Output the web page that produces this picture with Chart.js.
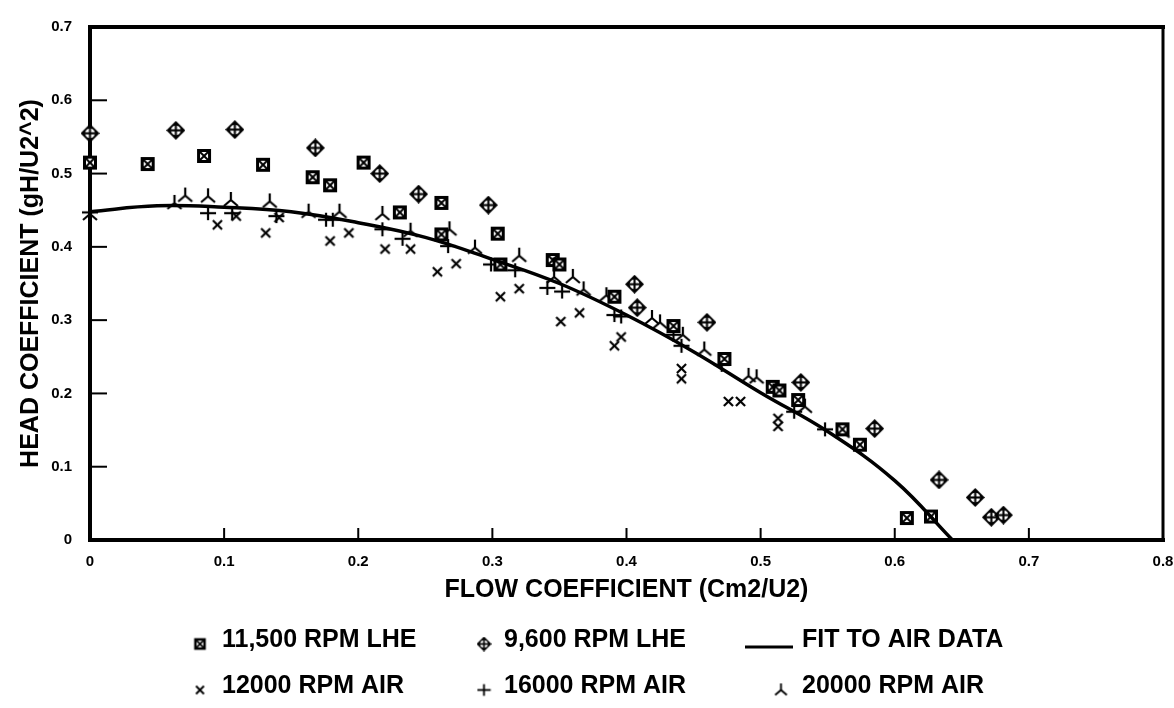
<!DOCTYPE html>
<html>
<head>
<meta charset="utf-8">
<title>Head coefficient vs flow coefficient</title>
<script src="https://cdn.jsdelivr.net/npm/chart.js@4/dist/chart.umd.min.js"></script>
<style>
  html, body { margin:0; padding:0; background:#fff; }
  #wrap { width:1174px; height:708px; }
</style>
</head>
<body>
<div id="wrap"><canvas id="pumpChart" width="1174" height="708"></canvas></div>

<script>
// ============================================
// Data
// ============================================

const lhe11500 = [
  [0,0.515],[0.043,0.513],[0.085,0.524],[0.129,0.512],[0.166,0.495],[0.179,0.484],
  [0.204,0.515],[0.231,0.447],[0.262,0.460],[0.262,0.417],[0.304,0.418],[0.306,0.376],
  [0.345,0.382],[0.350,0.376],[0.391,0.332],[0.435,0.292],[0.473,0.247],[0.509,0.209],
  [0.514,0.204],[0.528,0.191],[0.561,0.151],[0.574,0.130],[0.609,0.030],[0.627,0.032]
];

const lhe9600 = [
  [0,0.555],[0.064,0.559],[0.108,0.560],[0.168,0.535],[0.216,0.500],[0.245,0.472],
  [0.297,0.457],[0.406,0.349],[0.408,0.317],[0.460,0.297],[0.530,0.215],[0.585,0.152],
  [0.633,0.082],[0.660,0.058],[0.672,0.031],[0.681,0.034]
];

const air12000 = [
  [0.095,0.430],[0.109,0.442],[0.131,0.419],[0.141,0.440],[0.179,0.408],[0.193,0.419],
  [0.220,0.397],[0.239,0.397],[0.259,0.366],[0.273,0.377],[0.306,0.332],[0.320,0.343],
  [0.351,0.298],[0.365,0.310],[0.391,0.265],[0.396,0.277],[0.441,0.234],[0.441,0.220],
  [0.476,0.189],[0.485,0.189],[0.513,0.166],[0.513,0.155]
];

const air16000 = [
  [0,0.447],[0.088,0.446],[0.106,0.446],[0.139,0.442],[0.176,0.437],[0.181,0.437],
  [0.218,0.424],[0.233,0.411],[0.267,0.401],[0.299,0.376],[0.317,0.368],[0.341,0.344],
  [0.352,0.339],[0.391,0.307],[0.396,0.305],[0.435,0.280],[0.441,0.265],[0.471,0.239],
  [0.525,0.175],[0.548,0.151]
];

const air20000 = [
  [0,0.445],[0.063,0.460],[0.071,0.470],[0.088,0.469],[0.105,0.464],[0.134,0.462],
  [0.163,0.448],[0.186,0.448],[0.218,0.445],[0.239,0.422],[0.268,0.424],[0.287,0.399],
  [0.320,0.388],[0.346,0.359],[0.360,0.359],[0.368,0.342],[0.385,0.334],[0.419,0.303],
  [0.425,0.297],[0.442,0.280],[0.458,0.260],[0.491,0.224],[0.497,0.222],[0.533,0.182],
  [0.561,0.148]
];

// fit curve
const fitX = [0,0.05,0.1,0.15,0.2,0.25,0.3,0.35,0.4,0.45,0.5,0.55,0.6,0.643];
const fitY = [0.448,0.456,0.454,0.448,0.433,0.413,0.383,0.350,0.307,0.257,0.201,0.148,0.081,0];

const xTickLabels = ["0","0.1","0.2","0.3","0.4","0.5","0.6","0.7","0.8"];
const yTickLabels = ["0","0.1","0.2","0.3","0.4","0.5","0.6","0.7"];

const legendRows = [
  [["square","11,500 RPM LHE"],["diamond","9,600 RPM LHE"],["line","FIT TO AIR DATA"]],
  [["cross","12000 RPM AIR"],["plus","16000 RPM AIR"],["tripod","20000 RPM AIR"]]
];


const FONT = "'Liberation Sans', Arial, Helvetica, sans-serif";


// ============================================
// Marker glyphs (drawn once to small canvases)
// ============================================

function makeMarker(kind, size){

  const c = document.createElement("canvas");
  c.width = size;
  c.height = size;

  const g = c.getContext("2d");
  const s = size / 18;
  g.scale(s, s);
  g.strokeStyle = "#000";
  g.fillStyle = "#000";

  const line = (x1,y1,x2,y2,w) => {
    g.lineWidth = w;
    g.beginPath();
    g.moveTo(x1,y1);
    g.lineTo(x2,y2);
    g.stroke();
  };

  if(kind === "square"){
    g.fillRect(2,2,14,14);
    g.fillStyle = "#fff";
    g.fillRect(5,5,8,8);
    line(5,5,13,13,2);
    line(13,5,5,13,2);
  }
  else if(kind === "diamond"){
    g.beginPath();
    g.moveTo(9,0); g.lineTo(18,9); g.lineTo(9,18); g.lineTo(0,9);
    g.closePath(); g.fill();
    g.fillStyle = "#fff";
    g.beginPath();
    g.arc(9,9,4.6,0,Math.PI*2);
    g.fill();
    line(9,4,9,14,2);
    line(4,9,14,9,2);
  }
  else if(kind === "cross"){
    line(3.5,3.5,14.5,14.5,2.6);
    line(14.5,3.5,3.5,14.5,2.6);
  }
  else if(kind === "plus"){
    line(1,9,17,9,2.2);
    line(9,2,9,16,2.2);
  }
  else if(kind === "tripod"){
    line(9,1,9,9.5,2.2);
    line(9,9,2,15,2.2);
    line(9,9,16,15,2.2);
  }

  return c;
}

const markers = {
  square: makeMarker("square",18),
  diamond: makeMarker("diamond",19),
  cross: makeMarker("cross",15),
  plus: makeMarker("plus",18),
  tripod: makeMarker("tripod",18)
};

const legendMarkers = {
  square: makeMarker("square",15),
  diamond: makeMarker("diamond",15),
  cross: makeMarker("cross",13),
  plus: makeMarker("plus",15),
  tripod: makeMarker("tripod",15)
};


// ============================================
// Frame + inward ticks
// ============================================

const framePlugin = {

  id:"frame",

  beforeDatasetsDraw(chart){

    const {ctx, chartArea, scales} = chart;
    const {left, right, top, bottom} = chartArea;

    ctx.save();
    ctx.strokeStyle = "#000";
    ctx.lineCap = "square";

    const seg = (x1,y1,x2,y2,w) => {
      ctx.lineWidth = w;
      ctx.beginPath();
      ctx.moveTo(x1,y1);
      ctx.lineTo(x2,y2);
      ctx.stroke();
    };

    seg(left, top, right, top, 4);
    seg(right, top, right, bottom, 3);
    seg(left, bottom, right, bottom, 4);
    seg(left, top, left, bottom, 4);

    scales.y.ticks.forEach(t => {
      if(t.value <= 0 || t.value >= 0.7) return;
      const py = scales.y.getPixelForValue(t.value);
      seg(left, py, left + 16, py, 2);
    });

    scales.x.ticks.forEach(t => {
      if(t.value <= 0 || t.value >= 0.8) return;
      const px = scales.x.getPixelForValue(t.value);
      seg(px, bottom, px, bottom - 11, 2);
    });

    ctx.restore();
  }

};


// ============================================
// Legend drawn under the x title
// ============================================

const legendPlugin = {

  id:"paperLegend",

  afterDraw(chart){

    const ctx = chart.ctx;
    const rowY = [640, 686];
    const markX = [200, 484, 781];
    const textX = [222, 504, 802];

    ctx.save();
    ctx.fillStyle = "#000";
    ctx.strokeStyle = "#000";
    ctx.font = "bold 25px " + FONT;
    ctx.textBaseline = "middle";
    ctx.textAlign = "left";

    legendRows.forEach((row, r) => {
      row.forEach((item, c) => {

        const [kind, label] = item;
        const y = rowY[r];

        if(kind === "line"){
          ctx.lineWidth = 3;
          ctx.beginPath();
          ctx.moveTo(745, y + 7);
          ctx.lineTo(793, y + 7);
          ctx.stroke();
        }
        else{
          const m = legendMarkers[kind];
          ctx.drawImage(m, markX[c] - m.width/2, y + 4 - m.height/2);
        }

        ctx.fillText(label, textX[c], y);
      });
    });

    ctx.restore();
  }

};


// ============================================
// Chart
// ============================================

function toPoints(rows){
  return rows.map(p => ({x:p[0], y:p[1]}));
}

function markerSet(label, rows, kind){
  return {
    label,
    data: toPoints(rows),
    pointStyle: markers[kind],
    pointRadius: 7,
    showLine: false,
    clip: false
  };
}

const fitPoints = fitX.map((x,i) => ({x, y:fitY[i]}));

new Chart(

  document.getElementById("pumpChart"),

  {
    type:"scatter",

    data:{
      datasets:[
        {
          label:"FIT TO AIR DATA",
          data: fitPoints,
          showLine:true,
          borderColor:"#000",
          borderWidth:3.5,
          pointRadius:0,
          tension:0.4,
          clip:false
        },
        markerSet("11,500 RPM LHE", lhe11500, "square"),
        markerSet("9,600 RPM LHE", lhe9600, "diamond"),
        markerSet("12000 RPM AIR", air12000, "cross"),
        markerSet("16000 RPM AIR", air16000, "plus"),
        markerSet("20000 RPM AIR", air20000, "tripod")
      ]
    },

    options:{

      responsive:false,
      animation:false,
      devicePixelRatio:1,

      layout:{
        padding:{ top:16, right:11, bottom:103, left:0 }
      },

      plugins:{
        legend:{ display:false },
        tooltip:{ enabled:false }
      },

      scales:{

        x:{
          type:"linear",
          min:0,
          max:0.8,
          afterFit(s){
            s.height = 65;
            s.paddingLeft = 0;
            s.paddingRight = 0;
          },
          grid:{ display:false, drawTicks:false },
          border:{ display:false },
          ticks:{
            stepSize:0.1,
            padding:13,
            color:"#000",
            font:{ family:FONT, size:15, weight:"bold" },
            callback:(v,i) => xTickLabels[i]
          },
          title:{
            display:true,
            text:"FLOW COEFFICIENT (Cm2/U2)",
            color:"#000",
            font:{ family:FONT, size:25, weight:"bold" },
            padding:{ top:0, bottom:0 }
          }
        },

        y:{
          type:"linear",
          min:0,
          max:0.7,
          afterFit(s){ s.width = 90; },
          grid:{ display:false, drawTicks:false },
          border:{ display:false },
          ticks:{
            stepSize:0.1,
            padding:18,
            color:"#000",
            font:{ family:FONT, size:15, weight:"bold" },
            callback:(v,i) => yTickLabels[i]
          },
          title:{
            display:true,
            text:"HEAD COEFFICIENT (gH/U2^2)",
            color:"#000",
            font:{ family:FONT, size:25, weight:"bold" },
            padding:{ top:16, bottom:0 }
          }
        }

      }

    },

    plugins:[framePlugin, legendPlugin]
  }

);
</script>
</body>
</html>
